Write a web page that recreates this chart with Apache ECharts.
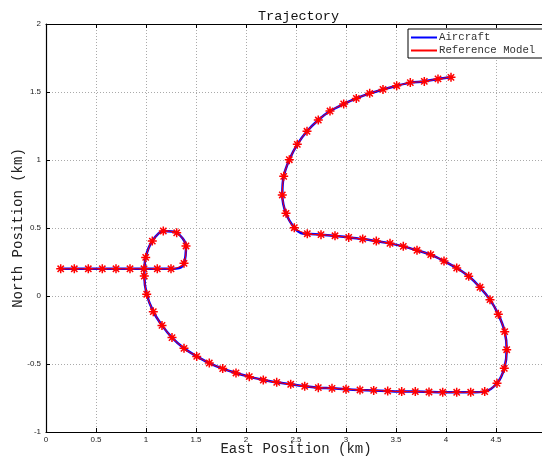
<!DOCTYPE html>
<html>
<head>
<meta charset="utf-8">
<script src="https://cdn.jsdelivr.net/npm/echarts@6/dist/echarts.min.js"></script>
<style>
html,body{margin:0;padding:0;background:#fff;}
#chart{width:542px;height:460px;}
</style>
</head>
<body>
<div id="chart"></div>
<script>
// Reference model samples (asterisk markers), km
var refEast = [0.147,0.283,0.423,0.563,0.70,0.84,0.98,1.113,1.25,1.38,1.40,1.307,1.173,1.063,0.997,0.983,1.007,1.073,1.16,1.26,1.38,1.507,1.633,1.767,1.90,2.033,2.173,2.307,2.447,2.587,2.723,2.86,3.0,3.14,3.277,3.417,3.557,3.693,3.83,3.967,4.107,4.247,4.387,4.51,4.583,4.607,4.587,4.523,4.44,4.34,4.227,4.107,3.98,3.847,3.71,3.573,3.44,3.303,3.167,3.027,2.89,2.75,2.613,2.483,2.40,2.363,2.377,2.433,2.513,2.61,2.723,2.84,2.977,3.103,3.237,3.37,3.507,3.643,3.783,3.92,4.05];
var refNorth = [0.2,0.2,0.2,0.2,0.2,0.2,0.2,0.2,0.2,0.24,0.368,0.465,0.478,0.404,0.284,0.147,0.013,-0.115,-0.216,-0.306,-0.385,-0.444,-0.493,-0.534,-0.566,-0.593,-0.618,-0.635,-0.649,-0.664,-0.674,-0.679,-0.686,-0.691,-0.694,-0.699,-0.703,-0.703,-0.706,-0.708,-0.708,-0.708,-0.703,-0.642,-0.532,-0.395,-0.262,-0.135,-0.027,0.064,0.145,0.206,0.257,0.304,0.336,0.365,0.387,0.404,0.419,0.431,0.443,0.451,0.458,0.502,0.608,0.743,0.880,1.002,1.115,1.211,1.294,1.360,1.412,1.453,1.490,1.519,1.546,1.569,1.578,1.596,1.608];
// Aircraft trajectory, km
var aircraftEast = [0.147,0.283,0.423,0.563,0.70,0.84,0.98,1.113,1.25,1.33,1.38,1.40,1.307,1.173,1.063,0.997,0.983,1.007,1.073,1.16,1.26,1.38,1.507,1.633,1.767,1.90,2.033,2.173,2.307,2.447,2.587,2.723,2.86,3.0,3.14,3.277,3.417,3.557,3.693,3.83,3.967,4.107,4.247,4.387,4.51,4.583,4.607,4.587,4.523,4.44,4.34,4.227,4.107,3.98,3.847,3.71,3.573,3.44,3.303,3.167,3.027,2.89,2.75,2.613,2.55,2.483,2.40,2.363,2.377,2.433,2.513,2.61,2.723,2.84,2.977,3.103,3.237,3.37,3.507,3.643,3.783,3.92,4.05];
var aircraftNorth = [0.2,0.2,0.2,0.2,0.2,0.2,0.2,0.2,0.2,0.205,0.24,0.368,0.465,0.478,0.404,0.284,0.147,0.013,-0.115,-0.216,-0.306,-0.385,-0.444,-0.493,-0.534,-0.566,-0.593,-0.618,-0.635,-0.649,-0.664,-0.674,-0.679,-0.686,-0.691,-0.694,-0.699,-0.703,-0.703,-0.706,-0.708,-0.708,-0.708,-0.703,-0.642,-0.532,-0.395,-0.262,-0.135,-0.027,0.064,0.145,0.206,0.257,0.304,0.336,0.365,0.387,0.404,0.419,0.431,0.443,0.451,0.458,0.463,0.502,0.608,0.743,0.880,1.002,1.115,1.211,1.294,1.360,1.412,1.453,1.490,1.519,1.546,1.569,1.578,1.596,1.608];
var xTicks = {min: 0, max: 5, interval: 0.5};
var yTicks = {min: -1, max: 2, interval: 0.5};
var titleText = 'Trajectory';
var xName = 'East Position (km)';
var yName = 'North Position (km)';
var seriesNames = ['Aircraft', 'Reference Model'];

function zip(a, b) { return a.map(function (v, i) { return [v, b[i]]; }); }

var mono = 'Liberation Mono';
var sans = 'Liberation Sans';
var asterisk = 'path://M5,0L5,10M0,5L10,5M1.5,1.5L8.5,8.5M1.5,8.5L8.5,1.5';

var chart = echarts.init(document.getElementById('chart'), null, {renderer: 'canvas'});
chart.setOption({
  backgroundColor: '#ffffff',
  animation: false,
  title: {
    text: titleText,
    left: 253, top: 4,
    textStyle: {fontFamily: mono, fontSize: 13.5, fontWeight: 'normal', color: '#111'}
  },
  legend: {
    orient: 'vertical',
    left: 408, top: 29,
    padding: [3, 12, 2, 3],
    itemGap: 2,
    itemWidth: 26, itemHeight: 2,
    backgroundColor: '#ffffff',
    borderColor: '#000', borderWidth: 1, borderRadius: 0,
    textStyle: {fontFamily: mono, fontSize: 10.7, color: '#333', padding: [0,0,0,-3]},
    data: [
      {name: seriesNames[0], icon: 'rect', itemStyle: {color: '#0000ff', borderWidth: 0}},
      {name: seriesNames[1], icon: 'rect', itemStyle: {color: '#ff0000', borderWidth: 0}}
    ]
  },
  grid: {left: 46, right: -4, top: 24, bottom: 28, containLabel: false, outerBoundsMode: 'none'},
  xAxis: [{
    type: 'value',
    min: xTicks.min, max: xTicks.max, interval: xTicks.interval,
    name: xName, nameLocation: 'middle', nameGap: 10, nameMoveOverlap: false,
    nameTextStyle: {fontFamily: mono, fontSize: 14, color: '#222'},
    axisLine: {show: true, onZero: false, lineStyle: {color: '#000', width: 1.2}},
    axisTick: {show: true, inside: true, length: 4, lineStyle: {color: '#000'}},
    axisLabel: {fontFamily: sans, fontSize: 8, color: '#222', margin: 4},
    splitLine: {show: true, lineStyle: {color: '#aaaaaa', type: [1, 2], width: 1}}
  }, {
    type: 'value', position: 'top',
    min: xTicks.min, max: xTicks.max, interval: xTicks.interval,
    axisLine: {show: true, onZero: false, lineStyle: {color: '#000', width: 1.2}},
    axisTick: {show: true, inside: true, length: 4, lineStyle: {color: '#000'}},
    axisLabel: {show: false},
    splitLine: {show: false}
  }],
  yAxis: {
    type: 'value',
    min: yTicks.min, max: yTicks.max, interval: yTicks.interval,
    name: yName, nameLocation: 'middle', nameGap: 21, nameMoveOverlap: false,
    nameTextStyle: {fontFamily: mono, fontSize: 14, color: '#222'},
    axisLine: {show: true, onZero: false, lineStyle: {color: '#000', width: 1.2}},
    axisTick: {show: true, inside: true, length: 4, lineStyle: {color: '#000'}},
    axisLabel: {fontFamily: sans, fontSize: 8, color: '#222', margin: 5},
    splitLine: {show: true, lineStyle: {color: '#aaaaaa', type: [1, 2], width: 1}}
  },
  series: [{
    name: seriesNames[0],
    type: 'line',
    data: zip(aircraftEast, aircraftNorth),
    smooth: 0.3,
    showSymbol: false,
    symbol: 'none',
    itemStyle: {color: '#0000ff'},
    lineStyle: {color: '#0000ff', width: 2.5},
    z: 2
  }, {
    name: seriesNames[1],
    type: 'line',
    data: zip(refEast, refNorth),
    smooth: 0.3,
    showSymbol: true,
    symbol: asterisk,
    symbolSize: 9,
    itemStyle: {color: 'none', borderColor: '#ff0000', borderWidth: 1.5},
    lineStyle: {color: '#ff0000', width: 1},
    z: 3
  }]
});
</script>
</body>
</html>
